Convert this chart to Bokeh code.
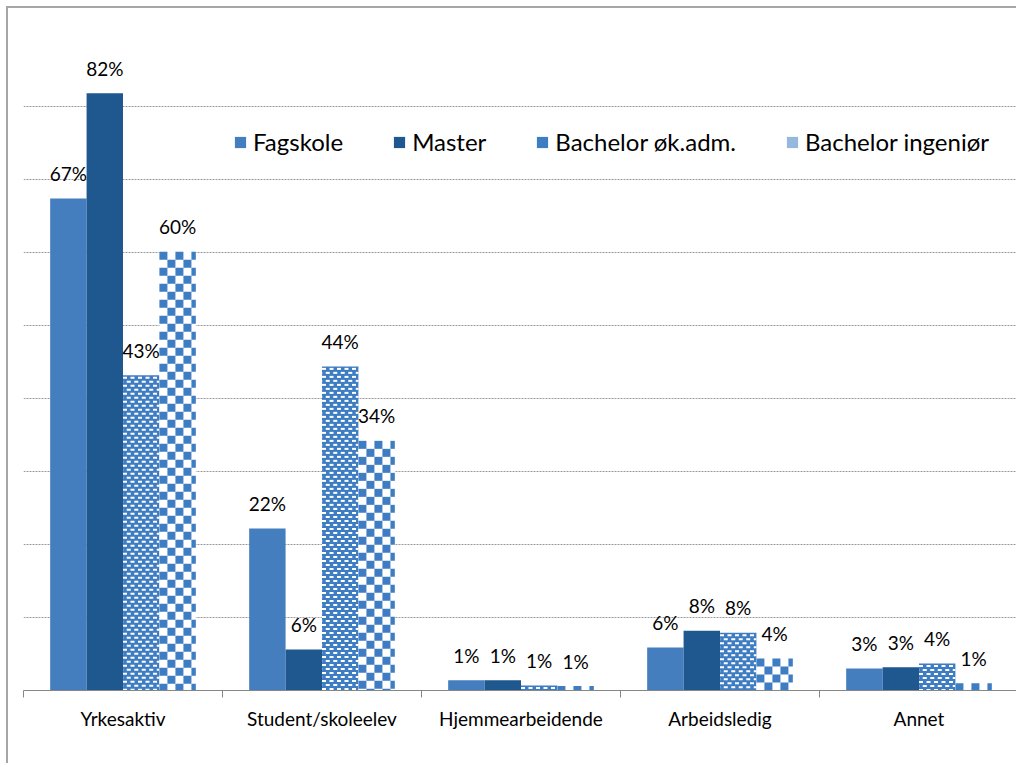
import math
from bokeh.plotting import figure
from bokeh.models import FixedTicker, ColumnDataSource, Legend, LegendItem
from bokeh.core.properties import value
from bokeh.embed import file_html
from bokeh.resources import INLINE

categories = ["Yrkesaktiv", "Student/skoleelev", "Hjemmearbeidende", "Arbeidsledig", "Annet"]
series_names = ["Fagskole", "Master", "Bachelor øk.adm.", "Bachelor ingeniør"]
fagskole = [67.4, 22.2, 1.4, 5.9, 3.0]
master = [81.8, 5.6, 1.4, 8.2, 3.2]
okadm = [43.2, 44.4, 0.7, 7.9, 3.7]
ingenior = [60.1, 34.2, 0.6, 4.4, 1.0]
grid_ticks = [10, 20, 30, 40, 50, 60, 70, 80, 90]

FONT = "Lato"
LIGHT = "#457EBE"
DARK = "#1F578F"
PAT = "#3F7DC3"

W, H = 1010, 757
ML, MR, MT, MB = 15, 0, 25, 75
XMAX, YMAX = 5, 90
ux = XMAX / (W - ML - MR)   # data units per pixel (x)
uy = YMAX / (H - MT - MB)   # data units per pixel (y)

p = figure(width=W, height=H, x_range=(0, XMAX), y_range=(0, YMAX),
           output_backend="svg", toolbar_location=None,
           min_border_left=ML, min_border_right=MR, min_border_top=MT, min_border_bottom=MB)
p.styles = {"border-left": "2px solid #A6A6A6", "border-top": "2px solid #A6A6A6",
            "margin-left": "6px", "margin-top": "6px"}
p.outline_line_color = None
p.background_fill_color = "white"
p.border_fill_color = "white"

bw = 0.183
xs = [i + 0.5 for i in range(len(categories))]
data_sets = [fagskole, master, okadm, ingenior]
offsets = [-1.5, -0.5, 0.5, 1.5]


def checker_quads(xcs, tops, w, px=8):
    L, R, B, T = [], [], [], []
    sx, sy = px * ux, px * uy
    for xc, top in zip(xcs, tops):
        x0, x1 = xc - w / 2, xc + w / 2
        ncols = math.ceil((x1 - x0) / sx)
        nrows = math.ceil(top / sy)
        for j in range(nrows):
            for i in range(ncols):
                if (i + j) % 2 == 0:
                    l = x0 + i * sx
                    r = min(l + sx, x1)
                    t = top - j * sy
                    b = max(t - sy, 0)
                    L.append(l); R.append(r); B.append(b); T.append(t)
    return dict(left=L, right=R, bottom=B, top=T)


def brick_quads(xcs, tops, w, dash_w=4, dash_h=2, period=7.5, row=4, first=1.5):
    L, R, B, T = [], [], [], []
    for xc, top in zip(xcs, tops):
        x0, x1 = xc - w / 2, xc + w / 2
        j = 0
        while True:
            t = top - (first + j * row) * uy
            if t <= 0:
                break
            b = max(t - dash_h * uy, 0)
            shift = 0 if j % 2 == 0 else period / 2
            k = -1
            while True:
                l = x0 + (shift + k * period) * ux
                if l >= x1:
                    break
                r = l + dash_w * ux
                if r > x0:
                    L.append(max(l, x0)); R.append(min(r, x1)); B.append(b); T.append(t)
                k += 1
            j += 1
    return dict(left=L, right=R, bottom=B, top=T)


items = []
for k, (name, vals) in enumerate(zip(series_names, data_sets)):
    bx = [x + offsets[k] * bw for x in xs]
    src = ColumnDataSource(dict(x=bx, top=vals, label=[f"{round(v)}%" for v in vals]))
    if k == 0:
        r = p.vbar(x="x", top="top", width=bw, source=src, fill_color=LIGHT, line_color=None)
        leg = r
    elif k == 1:
        r = p.vbar(x="x", top="top", width=bw, source=src, fill_color=DARK, line_color=None)
        leg = r
    elif k == 2:
        r = p.vbar(x="x", top="top", width=bw, source=src, fill_color=PAT, line_color=None)
        p.quad(source=ColumnDataSource(brick_quads(bx, vals, bw)),
               left="left", right="right", bottom="bottom", top="top",
               fill_color="white", line_color=None)
        leg = r
    else:
        r = p.vbar(x="x", top="top", width=bw, source=src, fill_color="white", line_color=None)
        p.quad(source=ColumnDataSource(checker_quads(bx, vals, bw)),
               left="left", right="right", bottom="bottom", top="top",
               fill_color=PAT, line_color=None)
        # legend swatch only (not drawn in the plot: NaN position)
        leg = p.vbar(x=[float("nan")], top=[0], width=bw, fill_color=PAT, fill_alpha=0.55,
                     line_color=None)
    p.text(x="x", y="top", text="label", source=src, text_align="center",
           text_baseline="alphabetic", y_offset=-25, text_font=value(FONT),
           text_font_size="19px", text_color="black")
    items.append(LegendItem(label=name, renderers=[leg]))

legend = Legend(items=items, orientation="horizontal", location=(210, 534),
                label_text_font=FONT, label_text_font_size="24px", label_text_color="black",
                glyph_width=14, glyph_height=14, label_standoff=6, spacing=49,
                padding=0, margin=0, background_fill_alpha=0, border_line_color=None)
p.add_layout(legend)

p.yaxis.visible = False
p.xgrid.visible = False
p.ygrid.ticker = FixedTicker(ticks=grid_ticks)
p.ygrid.grid_line_color = "#9A9A9A"
p.ygrid.grid_line_dash = "2 1"
p.ygrid.grid_line_width = 1

ax = p.xaxis[0]
ax.ticker = FixedTicker(ticks=xs, minor_ticks=list(range(len(categories) + 1)))
ax.major_label_overrides = {x: c for x, c in zip(xs, categories)}
ax.major_tick_line_color = None
ax.major_tick_out = 0
ax.major_tick_in = 0
ax.minor_tick_line_color = "#868686"
ax.minor_tick_out = 7
ax.minor_tick_in = 0
ax.axis_line_color = "#868686"
ax.axis_line_width = 1
ax.major_label_standoff = 9
ax.major_label_text_font = FONT
ax.major_label_text_font_size = "19px"
ax.major_label_text_color = "black"

open("out.html", "w").write(file_html(p, INLINE))
